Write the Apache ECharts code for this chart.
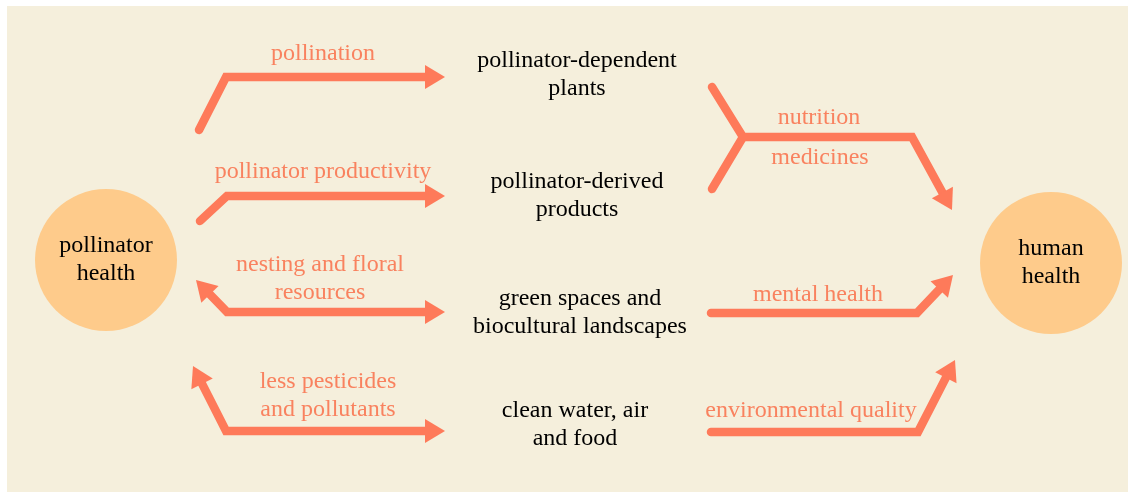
<!DOCTYPE html>
<html>
<head>
<meta charset="utf-8">
<script src="https://cdn.jsdelivr.net/npm/echarts@6/dist/echarts.min.js"></script>
<style>
  html, body { margin: 0; padding: 0; background: #ffffff; }
  #chart { position: absolute; left: 7px; top: 6px; width: 1121px; height: 486px; }
</style>
</head>
<body>
<div id="chart"></div>
<script>
// hub circles
var hubNames = ['pollinator\nhealth', 'human\nhealth'];
var hubPos = [[106, 260], [1051, 263]];

// middle boxes (black text)
var nodeNames = ['pollinator-dependent\nplants', 'pollinator-derived\nproducts',
                 'green spaces and\nbiocultural landscapes', 'clean water, air\nand food'];
var nodePos = [[577, 75], [577, 196], [580, 313], [575, 425]];

// arrow labels (orange text)
var flowNames = ['pollination', 'pollinator productivity', 'nesting and floral\nresources',
                 'less pesticides\nand pollutants', 'nutrition', 'medicines',
                 'mental health', 'environmental quality'];
var flowNamePos = [[323, 54], [323, 172], [320, 279], [328, 396],
                   [819, 118], [820, 158], [818, 295], [811, 411]];

// arrow paths (polyline points), heads at start / end
var flowPaths = [
  [[199, 130], [226, 77], [445, 77]],
  [[200, 221], [227, 196], [445, 196]],
  [[196, 280], [227, 312], [445, 312]],
  [[193, 366], [226, 431], [445, 431]],
  [[712, 87], [743, 137], [912, 137], [952, 210]],
  [[712, 189], [743, 137]],
  [[711, 313], [917, 313], [953, 275]],
  [[711, 432], [918, 432], [955, 360]]
];
var headAtStart = [false, false, true, true, false, false, false, false];
var headAtEnd = [true, true, true, true, true, false, true, true];

var arrowColor = '#fe7a5a';
var labelColor = '#f9825f';
var headW = 24, headL = 20;

var series = [];
var heads = [];

function unit(a, b) {
  var dx = b[0] - a[0], dy = b[1] - a[1];
  var len = Math.sqrt(dx * dx + dy * dy);
  return [dx / len, dy / len];
}

function addHead(tip, d) {
  var rot = Math.atan2(-d[1], d[0]) * 180 / Math.PI - 90;
  heads.push({
    value: [tip[0] - d[0] * headL / 2, tip[1] - d[1] * headL / 2],
    symbolRotate: rot
  });
}

flowPaths.forEach(function (pts, i) {
  var p = pts.map(function (q) { return q.slice(); });
  var n = p.length;
  if (headAtEnd[i]) {
    var d = unit(p[n - 2], p[n - 1]);
    addHead(pts[n - 1], d);
    p[n - 1] = [p[n - 1][0] - d[0] * headL * 0.6, p[n - 1][1] - d[1] * headL * 0.6];
  }
  if (headAtStart[i]) {
    var d0 = unit(p[1], p[0]);
    addHead(pts[0], d0);
    p[0] = [p[0][0] - d0[0] * headL * 0.6, p[0][1] - d0[1] * headL * 0.6];
  }
  series.push({
    type: 'line',
    data: p,
    symbol: 'none',
    silent: true,
    z: 3,
    lineStyle: { color: arrowColor, width: 8.5, cap: 'round', join: 'miter', opacity: 1 }
  });
});

series.push({
  type: 'scatter',
  data: heads,
  symbol: 'triangle',
  symbolSize: [headW, headL],
  itemStyle: { color: arrowColor, opacity: 1 },
  z: 4
});

series.push({
  type: 'scatter',
  data: hubPos.map(function (p, i) { return { name: hubNames[i], value: p }; }),
  symbolSize: 142,
  itemStyle: { color: '#fecb8b', opacity: 1 },
  z: 2,
  label: {
    show: true, position: 'inside', formatter: '{b}',
    fontFamily: 'Liberation Serif', fontSize: 24, lineHeight: 28, color: '#000000'
  }
});

series.push({
  type: 'scatter',
  data: nodePos.map(function (p, i) { return { name: nodeNames[i], value: p }; }),
  symbolSize: 1,
  itemStyle: { color: 'rgba(0,0,0,0)', opacity: 1 },
  z: 5,
  label: {
    show: true, position: 'inside', formatter: '{b}',
    fontFamily: 'Liberation Serif', fontSize: 24, lineHeight: 28, color: '#000000'
  }
});

series.push({
  type: 'scatter',
  data: flowNamePos.map(function (p, i) { return { name: flowNames[i], value: p }; }),
  symbolSize: 1,
  itemStyle: { color: 'rgba(0,0,0,0)', opacity: 1 },
  z: 5,
  label: {
    show: true, position: 'inside', formatter: '{b}',
    fontFamily: 'Liberation Serif', fontSize: 24, lineHeight: 28, color: labelColor
  }
});

var myChart = echarts.init(document.getElementById('chart'));
var option = {
  backgroundColor: '#f5efdc',
  animation: false,
  grid: { left: 0, right: 0, top: 0, bottom: 0 },
  xAxis: { type: 'value', min: 7, max: 1128, show: false },
  yAxis: { type: 'value', min: 6, max: 492, inverse: true, show: false },
  series: series
};
myChart.setOption(option);
</script>
</body>
</html>
